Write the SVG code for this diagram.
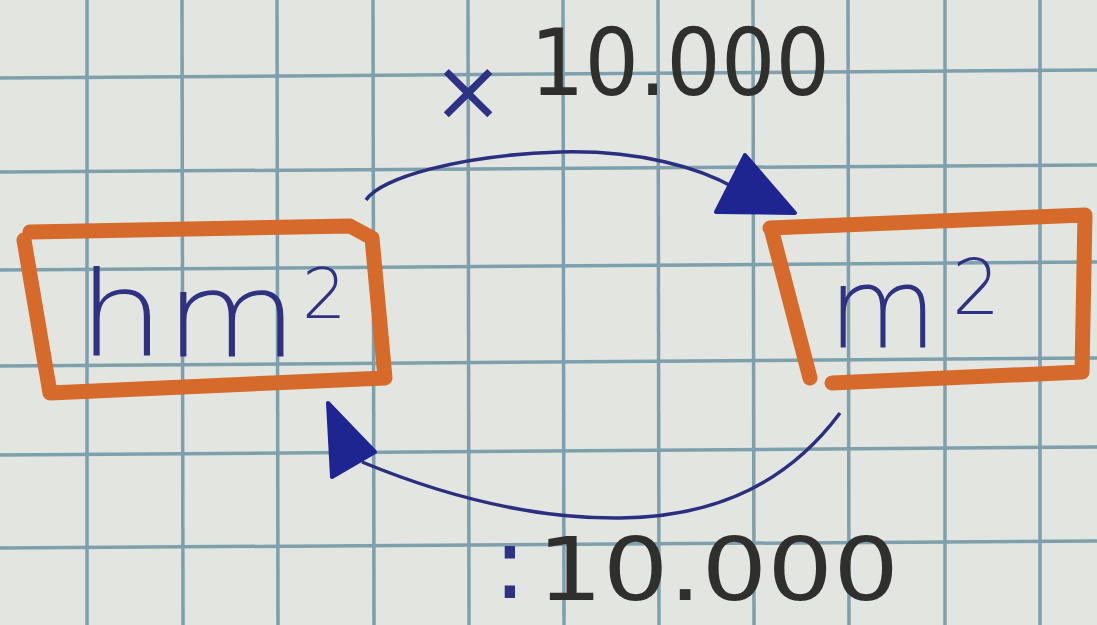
<svg xmlns="http://www.w3.org/2000/svg" width="1097" height="625" viewBox="0 0 1097 625">
<defs>
<style>
.grid line{stroke:#7e9fac;stroke-width:3.5}
.box{fill:none;stroke:#d56a2a;stroke-width:15;stroke-linejoin:round;stroke-linecap:round}
.unit{font-family:"DejaVu Sans","Liberation Sans",sans-serif;font-weight:200;fill:#2e3280}
.num{font-family:"DejaVu Sans","Liberation Sans",sans-serif;fill:#2f302e}
.sym{font-family:"DejaVu Sans","Liberation Sans",sans-serif;fill:#2d3285}
.arc{fill:none;stroke:#2a2f80;stroke-width:3.5}
.head{fill:#1f2590;stroke:#1f2590;stroke-width:4;stroke-linejoin:round}
</style>
</defs>
<rect width="1097" height="625" fill="#e3e5e1"/>
<g class="grid">
<line x1="87" y1="0" x2="87" y2="625"/>
<line x1="182" y1="0" x2="183" y2="625"/>
<line x1="277" y1="0" x2="278" y2="625"/>
<line x1="373" y1="0" x2="374" y2="625"/>
<line x1="468" y1="0" x2="469" y2="625"/>
<line x1="563" y1="0" x2="564" y2="625"/>
<line x1="658" y1="0" x2="659" y2="625"/>
<line x1="753" y1="0" x2="754" y2="625"/>
<line x1="848" y1="0" x2="849" y2="625"/>
<line x1="945" y1="0" x2="945" y2="625"/>
<line x1="1040" y1="0" x2="1040" y2="625"/>
<line x1="0" y1="78" x2="1097" y2="70"/>
<line x1="0" y1="172" x2="1097" y2="165"/>
<line x1="0" y1="270" x2="1097" y2="262"/>
<line x1="0" y1="366" x2="1097" y2="358"/>
<line x1="0" y1="455" x2="1097" y2="447"/>
<line x1="0" y1="548" x2="1097" y2="541"/>
</g>
<g id="node-hm2">
<path class="box" d="M30,232 L350,226 L372,238 L385,378 L50,393 L24,240"/>
<text class="unit" x="78" y="356" font-size="118" textLength="220" lengthAdjust="spacingAndGlyphs">hm</text>
<text class="unit" x="302" y="318" font-size="70">2</text>
</g>
<g id="node-m2">
<path class="box" d="M770,228 L1085,215 L1082,372 L832,383 M772,232 L810,378"/>
<text class="unit" x="828" y="348" font-size="112">m</text>
<text class="unit" x="952" y="314" font-size="76">2</text>
</g>
<g id="connectors">
<path class="arc" d="M366,200 C380,178 460,155 560,152 C640,150 700,168 735,188"/>
<polygon class="head" points="716,212 745,155 795,213"/>
<path class="arc" d="M840,413 C790,480 720,517 620,518 C520,519 430,490 362,462"/>
<polygon class="head" points="328,403 375,452 332,477"/>
</g>
<g id="labels">
<text class="sym" x="432" y="120" font-size="86">×</text>
<text class="num" x="530" y="95" font-size="92" textLength="300" lengthAdjust="spacingAndGlyphs">10.000</text>
<text class="sym" x="493" y="598" font-size="100" fill="#3a4aa0">:</text>
<text class="num" x="537" y="600" font-size="88" textLength="362" lengthAdjust="spacingAndGlyphs">10.000</text>
</g>
</svg>
